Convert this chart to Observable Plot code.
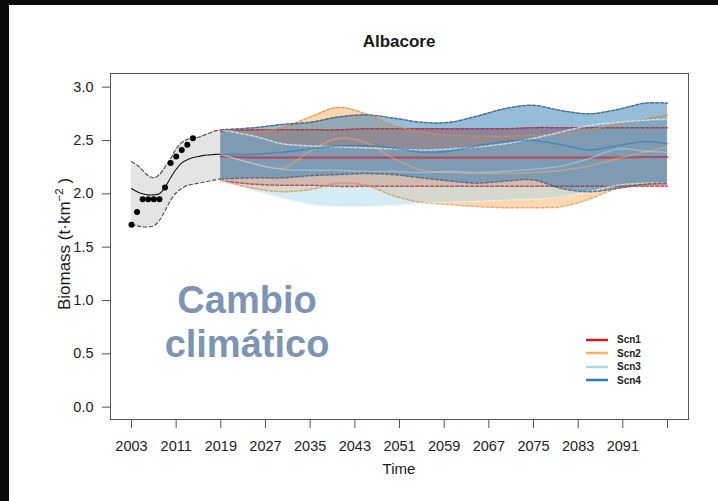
<!DOCTYPE html>
<html><head><meta charset="utf-8">
<script src="https://cdn.jsdelivr.net/npm/d3@7"></script>
<script src="https://cdn.jsdelivr.net/npm/@observablehq/plot@0.6"></script>
<style>
html,body{margin:0;padding:0;background:#0b0b0b;width:718px;height:501px;overflow:hidden;font-family:"Liberation Sans",Arial,sans-serif;}
#panel{position:absolute;left:9px;top:5px;right:0;bottom:0;background:#fff;}
#chart{position:absolute;left:0;top:0;}
.lbl{position:absolute;color:#1a1a1a;white-space:nowrap;}
#title{left:110px;width:578px;top:32px;text-align:center;font-weight:bold;font-size:17px;line-height:20px;}
#xlab{left:110px;width:578px;top:460px;text-align:center;font-size:15px;line-height:18px;}
#ylab{left:62px;top:244px;font-size:17px;line-height:18px;transform:translate(-50%,-50%) rotate(-90deg);}
#ylab sup{font-size:11.5px;vertical-align:7px;}
#note{left:147px;width:200px;top:278px;text-align:center;font-weight:bold;font-size:38px;line-height:44px;color:#7d95b5;}
#legend{position:absolute;left:586px;top:333px;}
.row{display:flex;align-items:center;height:13.5px;}
.row span{font-size:10px;font-weight:bold;color:#222;margin-left:9px;}
</style></head>
<body>
<div id="panel"></div>
<div id="chart"></div>
<div class="lbl" id="title">Albacore</div>
<div class="lbl" id="xlab">Time</div>
<div class="lbl" id="ylab">Biomass (t·km<sup>−2</sup> )</div>
<div class="lbl" id="note">Cambio<br>climático</div>
<div id="legend"></div>
<script>
// ---- data ----
const histYears = [2003,2004,2005,2006,2007,2008,2009,2010,2011,2012,2013,2014,2015,2016,2017,2018,2019];
const histMean  = [2.05,2.02,2.00,1.99,1.99,2.00,2.06,2.15,2.23,2.29,2.32,2.34,2.35,2.36,2.365,2.37,2.37];
const histUpper = [2.30,2.27,2.22,2.17,2.15,2.18,2.25,2.33,2.42,2.48,2.51,2.52,2.53,2.55,2.57,2.59,2.60];
const histLower = [1.71,1.70,1.69,1.69,1.70,1.75,1.84,1.94,2.01,2.05,2.08,2.09,2.10,2.11,2.12,2.13,2.14];

const obsYears   = [2003,2004,2005,2006,2007,2008,2009,2010,2011,2012,2013,2014];
const obsBiomass = [1.71,1.83,1.95,1.95,1.95,1.95,2.06,2.29,2.35,2.41,2.46,2.52];

const projYears = [2019,2025,2030,2035,2040,2045,2050,2055,2060,2065,2070,2075,2080,2085,2090,2095,2099];

const scnNames  = ["Scn1","Scn2","Scn3","Scn4"];
const scnColors = ["#d7191c","#fdae61","#abd9e9","#2c7bb6"];
const scnDash   = ["#b2182b","#e08a3c","#e4f4fb","#34506e"];
const scnLineOpacity = [0.6,0.45,0.5,0.6];

const scn1Mean  = [2.35,2.34,2.34,2.34,2.34,2.34,2.34,2.34,2.34,2.34,2.34,2.34,2.34,2.34,2.34,2.345,2.345];
const scn1Upper = [2.59,2.60,2.60,2.60,2.60,2.61,2.61,2.61,2.61,2.61,2.61,2.62,2.62,2.62,2.62,2.62,2.62];
const scn1Lower = [2.12,2.09,2.08,2.08,2.07,2.07,2.07,2.07,2.07,2.07,2.07,2.07,2.07,2.07,2.07,2.07,2.07];

const scn2Mean  = [2.37,2.28,2.24,2.40,2.52,2.48,2.33,2.22,2.20,2.19,2.19,2.20,2.22,2.26,2.33,2.39,2.44];
const scn2Upper = [2.60,2.58,2.62,2.72,2.81,2.75,2.64,2.58,2.55,2.54,2.54,2.55,2.56,2.60,2.65,2.70,2.74];
const scn2Lower = [2.12,2.05,2.02,2.04,2.10,2.08,1.98,1.92,1.90,1.88,1.87,1.87,1.88,1.95,2.05,2.08,2.10];

const scn3Mean  = [2.37,2.28,2.23,2.22,2.22,2.21,2.21,2.20,2.21,2.20,2.21,2.23,2.26,2.33,2.42,2.40,2.39];
const scn3Upper = [2.60,2.54,2.47,2.45,2.44,2.43,2.42,2.41,2.42,2.44,2.47,2.52,2.58,2.64,2.67,2.69,2.70];
const scn3Lower = [2.12,2.03,1.96,1.90,1.88,1.88,1.89,1.91,1.92,1.93,1.94,1.95,1.97,2.02,2.08,2.10,2.10];

const scn4Mean  = [2.37,2.37,2.39,2.42,2.45,2.45,2.43,2.39,2.40,2.45,2.49,2.50,2.46,2.41,2.45,2.49,2.47];
const scn4Upper = [2.60,2.62,2.65,2.67,2.72,2.74,2.71,2.67,2.67,2.73,2.80,2.83,2.78,2.75,2.79,2.85,2.85];
const scn4Lower = [2.14,2.15,2.15,2.17,2.18,2.19,2.18,2.15,2.12,2.10,2.12,2.13,2.05,2.02,2.05,2.09,2.10];

const xTicks = [2003,2011,2019,2027,2035,2043,2051,2059,2067,2075,2083,2091,2099];
const xTickLabels = ["2003","2011","2019","2027","2035","2043","2051","2059","2067","2075","2083","2091",""];
const yTicks = [0,0.5,1,1.5,2,2.5,3];

// ---- tables ----
const hist = histYears.map((year,i)=>({year, mean:histMean[i], hi:histUpper[i], lo:histLower[i]}));
const obs = obsYears.map((year,i)=>({year, v:obsBiomass[i]}));
const scnSeries = [[scn1Mean,scn1Upper,scn1Lower],[scn2Mean,scn2Upper,scn2Lower],[scn3Mean,scn3Upper,scn3Lower],[scn4Mean,scn4Upper,scn4Lower]];
const scnRows = scnSeries.map(([m,u,l])=>projYears.map((year,i)=>({year, mean:m[i], hi:u[i], lo:l[i]})));
const labelOf = new Map(xTicks.map((t,i)=>[t,xTickLabels[i]]));

const curve = "catmull-rom";
const marks = [
  Plot.areaY(hist,{x:"year",y1:"lo",y2:"hi",fill:"#e4e4e4",curve}),
  Plot.line(hist,{x:"year",y:"hi",stroke:"#555",strokeWidth:1.2,strokeDasharray:"3.5,2.5",curve}),
  Plot.line(hist,{x:"year",y:"lo",stroke:"#555",strokeWidth:1.2,strokeDasharray:"3.5,2.5",curve}),
  Plot.line(hist,{x:"year",y:"mean",stroke:"#111",strokeWidth:1.1,curve})
];
scnRows.forEach((rows,k)=>{
  marks.push(Plot.areaY(rows,{x:"year",y1:"lo",y2:"hi",fill:scnColors[k],fillOpacity:0.5,curve}));
});
scnRows.forEach((rows,k)=>{
  marks.push(
    Plot.line(rows,{x:"year",y:"hi",stroke:scnDash[k],strokeOpacity:0.7,strokeWidth:1.5,strokeDasharray:"3,2",curve}),
    Plot.line(rows,{x:"year",y:"lo",stroke:scnDash[k],strokeOpacity:0.7,strokeWidth:1.5,strokeDasharray:"3,2",curve}),
    Plot.line(rows,{x:"year",y:"mean",stroke:scnColors[k],strokeOpacity:scnLineOpacity[k],strokeWidth:k===0?2.2:1.6,curve})
  );
});
marks.push(
  Plot.dot(obs,{x:"year",y:"v",r:3,fill:"#000",stroke:null}),
  Plot.frame({stroke:"#555"}),
  Plot.axisX(xTicks,{tickSize:9,tickPadding:12,tickFormat:d=>labelOf.get(d),fontSize:14.5,stroke:"#555",label:null}),
  Plot.axisY(yTicks,{tickSize:8,tickPadding:9,tickFormat:d=>d.toFixed(1),fontSize:14.5,stroke:"#555",label:null})
);

const chart = Plot.plot({
  width:718, height:501,
  marginLeft:110, marginRight:30, marginTop:73, marginBottom:82,
  x:{domain:[1999.24,2102.76]},
  y:{domain:[-0.116,3.128]},
  style:{background:"transparent",fontFamily:"'Liberation Sans',Arial,sans-serif",color:"#222",overflow:"visible"},
  marks
});
document.getElementById("chart").appendChild(chart);

// ---- legend ----
const lg = d3.select("#legend");
scnNames.forEach((n,k)=>{
  const row = lg.append("div").attr("class","row");
  const s = row.append("svg").attr("width",22).attr("height",4);
  s.append("line").attr("x1",0).attr("x2",22).attr("y1",2).attr("y2",2)
    .attr("stroke",scnColors[k]).attr("stroke-width",2.5);
  row.append("span").text(n);
});
</script>
</body></html>
